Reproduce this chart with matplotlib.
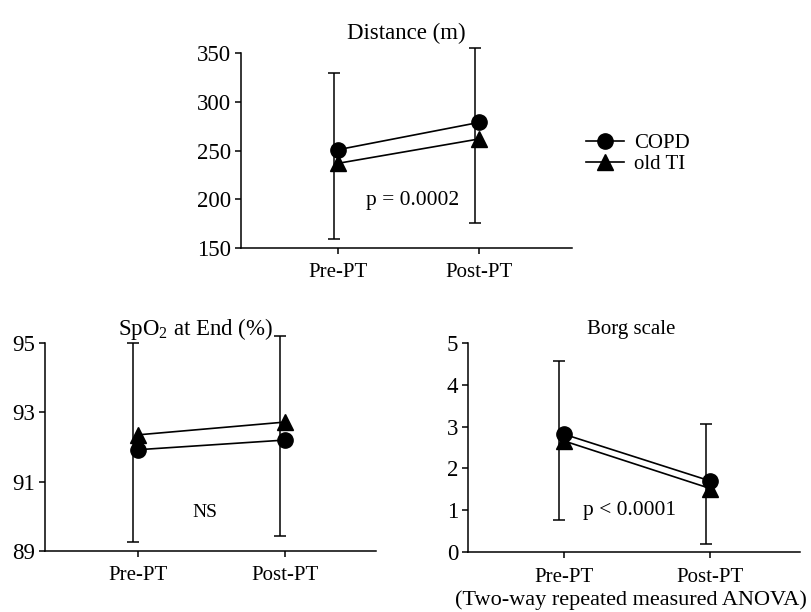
import numpy as np
import matplotlib.pyplot as plt

plt.rcParams['font.family'] = ['Liberation Serif', 'DejaVu Serif']
plt.rcParams['mathtext.default'] = 'regular'

phases = ['Pre-PT', 'Post-PT']

# distance (m)
dist_copd = [251, 279]
dist_old = [237, 262]
dist_lo = [159, 176]
dist_hi = [330, 355]

# SpO2 at end (%)
spo2_copd = [91.92, 92.2]
spo2_old = [92.35, 92.72]
spo2_lo = [89.24, 89.43]
spo2_hi = [95.0, 95.22]

# Borg scale
borg_copd = [2.82, 1.7]
borg_old = [2.66, 1.52]
borg_lo = [0.77, 0.19]
borg_hi = [4.57, 3.06]

fig = plt.figure(figsize=(8.12, 6.12), dpi=100)
ax1 = fig.add_axes([0.2968, 0.5948, 0.4076, 0.3181])
ax2 = fig.add_axes([0.0554, 0.1002, 0.4076, 0.3389])
ax3 = fig.add_axes([0.5764, 0.0976, 0.4089, 0.3424])

x = np.arange(len(phases))


def panel(ax, copd, old, lo, hi, ylim, yticks, xlim):
    lo = np.array(lo)
    hi = np.array(hi)
    ax.errorbar(x - 0.03, (lo + hi) / 2, yerr=(hi - lo) / 2, fmt='none',
                ecolor='black', elinewidth=1.1, capsize=4.5, capthick=1.1,
                clip_on=False, zorder=2)
    ax.plot(x, copd, color='black', lw=1.2, marker='o', ms=11, clip_on=False,
            zorder=3, label='COPD')
    ax.plot(x, old, color='black', lw=1.2, marker='^', ms=11, clip_on=False,
            zorder=3, label='old TI')
    ax.set_xlim(*xlim)
    ax.set_ylim(*ylim)
    ax.set_yticks(yticks)
    ax.set_xticks(x)
    ax.set_xticklabels(phases)
    for s in ['top', 'right']:
        ax.spines[s].set_visible(False)
    for s in ['left', 'bottom']:
        ax.spines[s].set_linewidth(1.1)
    ax.tick_params(axis='y', labelsize=16.5, length=4, width=1.1, pad=3)
    ax.tick_params(axis='x', labelsize=15, length=4, width=1.1, pad=7)


panel(ax1, dist_copd, dist_old, dist_lo, dist_hi, (150, 350),
      [150, 200, 250, 300, 350], (-0.69, 1.66))
ax1.set_title('Distance (m)', fontsize=16.5, pad=10)
ax1.text(0.53, 199, 'p = 0.0002', fontsize=15.5, ha='center', va='center')

panel(ax2, spo2_copd, spo2_old, spo2_lo, spo2_hi, (89, 95),
      [89, 91, 93, 95], (-0.63, 1.62))
ax2.set_title('Sp$O_2$ at End (%)', fontsize=16.5, pad=6, x=0.455)
ax2.text(0.46, 90.1, 'NS', fontsize=14, ha='center', va='center')

panel(ax3, borg_copd, borg_old, borg_lo, borg_hi, (0, 5),
      [0, 1, 2, 3, 4, 5], (-0.65, 1.61))
ax3.set_title('Borg scale', fontsize=15, pad=6, x=0.49)
ax3.text(0.13, 1.0, 'p < 0.0001', fontsize=15.5, ha='left', va='center')
fig.text(0.777, 0.02, '(Two-way repeated measured ANOVA)', fontsize=16,
         ha='center', va='center')

handles, labels = ax1.get_legend_handles_labels()
fig.legend(handles, labels, loc='upper left', bbox_to_anchor=(0.712, 0.795),
           frameon=False, fontsize=15, handlelength=1.8, handletextpad=0.5,
           labelspacing=0.05, borderaxespad=0)

fig.savefig('out.png', dpi=100)
